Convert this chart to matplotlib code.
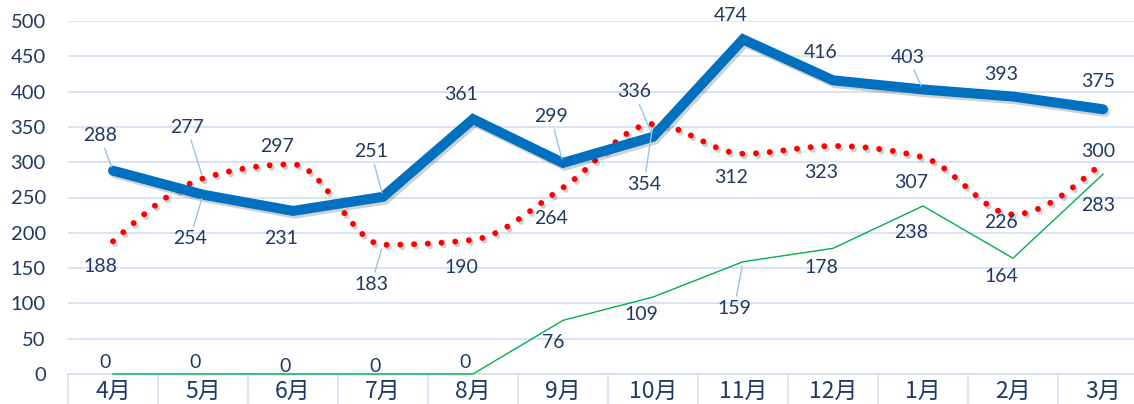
import numpy as np
import matplotlib
matplotlib.use("Agg")
import matplotlib.pyplot as plt
import matplotlib.patheffects as pe

# ---------------- data ----------------
months = ['4月', '5月', '6月', '7月', '8月', '9月', '10月', '11月', '12月', '1月', '2月', '3月']
blue_vals = [288, 254, 231, 251, 361, 299, 336, 474, 416, 403, 393, 375]
red_vals = [188, 277, 297, 183, 190, 264, 354, 312, 323, 307, 226, 300]
green_vals = [0, 0, 0, 0, 0, 76, 109, 159, 178, 238, 164, 283]
y_ticks = [0, 50, 100, 150, 200, 250, 300, 350, 400, 450, 500]

# label offsets in pixels (dx, dy; dy positive = down) and leader flags
blue_off = [(-13, -35), (-13, 44), (-12, 28), (-12, -45), (-12, -25), (-12, -46),
            (-19, -45), (-12, -24), (-12, -28), (-15, -32), (-12, -22), (-5, -28)]
blue_lead = [1, 1, 0, 1, 0, 1, 1, 0, 0, 1, 0, 0]
red_off = [(-13, 25), (-16, -51), (-16, -18), (-12, 40), (-12, 28), (-12, 31),
           (-9, 60), (-12, 24), (-12, 27), (-12, 25), (-12, 8), (-5, -11)]
red_lead = [0, 1, 0, 1, 0, 0, 1, 0, 0, 0, 0, 0]
green_off = [(-8, -11), (-8, -11), (-8, -8), (-8, -8), (-8, -11), (-10, 22),
             (-12, 17), (-9, 47), (-12, 19), (-12, 27), (-12, 18), (-5, 31)]
green_lead = [0, 0, 0, 0, 0, 0, 0, 1, 0, 0, 0, 0]

plt.rcParams['font.family'] = ['Lato', 'Noto Sans CJK JP', 'DejaVu Sans']

TXT = '#203864'
GRID = '#D5E1F2'
LEAD = '#9DC3E6'

fig = plt.figure(figsize=(11.34, 4.04), dpi=100)
ax = fig.add_axes([68 / 1134, 30 / 404, 1080 / 1134, 353 / 404])
ax.set_xlim(-0.5, 11.5)
ax.set_ylim(0, 500)

x = np.arange(len(months))


def monotone(xs, ys, n=40):
    xs = np.asarray(xs, float)
    ys = np.asarray(ys, float)
    N = len(xs)
    h = np.diff(xs)
    s = np.diff(ys) / h
    t = np.zeros(N)
    for i in range(1, N - 1):
        s0, s1 = s[i - 1], s[i]
        p = (s0 * h[i] + s1 * h[i - 1]) / (h[i - 1] + h[i])
        t[i] = (np.sign(s0) + np.sign(s1)) * min(abs(s0), abs(s1), 0.5 * abs(p))
    t[0] = (3 * s[0] - t[1]) / 2
    t[-1] = (3 * s[-1] - t[-2]) / 2
    px, py = [], []
    for i in range(N - 1):
        u = np.linspace(0, 1, n, endpoint=(i == N - 2))
        h00 = 2 * u ** 3 - 3 * u ** 2 + 1
        h10 = u ** 3 - 2 * u ** 2 + u
        h01 = -2 * u ** 3 + 3 * u ** 2
        h11 = u ** 3 - u ** 2
        px.extend(xs[i] + u * h[i])
        py.extend(h00 * ys[i] + h10 * h[i] * t[i] + h01 * ys[i + 1] + h11 * h[i] * t[i + 1])
    return np.array(px), np.array(py)


# grid
ax.set_yticks(y_ticks)
ax.yaxis.grid(True, color=GRID, lw=1.3)
ax.set_axisbelow(True)
for s in ['top', 'right', 'left']:
    ax.spines[s].set_visible(False)
ax.spines['bottom'].set_color(GRID)
ax.spines['bottom'].set_linewidth(1.3)

# lines
shadow = [pe.SimpleLineShadow(offset=(1.5, -2.0), shadow_color='black', alpha=0.18), pe.Normal()]
ax.plot(x, green_vals, color='#00B050', lw=1.0, zorder=3, clip_on=False)
sx, sy = monotone(x, red_vals)
ax.plot(sx, sy, color='#FF0000', lw=4.3, linestyle=(0, (0.001, 2.3)),
        dash_capstyle='round', solid_capstyle='round', zorder=4, path_effects=shadow)
ax.plot(x, blue_vals, color='#0070C0', lw=7.2, solid_joinstyle='miter',
        solid_capstyle='round', zorder=5, path_effects=shadow)


def labels(vals, offs, leads):
    for i, v in enumerate(vals):
        dx, dy = offs[i]
        kw = {}
        if leads[i]:
            kw['arrowprops'] = dict(arrowstyle='-', color=LEAD, lw=1.0, shrinkA=1, shrinkB=3)
        ax.annotate(str(v), (x[i], v), xytext=(dx, -dy), textcoords='offset pixels',
                    ha='center', va='center', fontsize=14, color=TXT, zorder=6, **kw)


labels(blue_vals, blue_off, blue_lead)
labels(red_vals, red_off, red_lead)
labels(green_vals, green_off, green_lead)

# axes ticks
ax.tick_params(axis='y', length=0, pad=16, labelsize=14.5, labelcolor=TXT)
ax.set_xticks(x)
ax.set_xticklabels(months, fontsize=16.5, color=TXT, family=['Noto Sans CJK JP'])
ax.tick_params(axis='x', which='major', length=0, pad=4)
ax.set_xticks(np.arange(-0.5, 12, 1), minor=True)
ax.tick_params(axis='x', which='minor', length=22, width=1.2, color=GRID)

fig.savefig('out.png', dpi=100)
